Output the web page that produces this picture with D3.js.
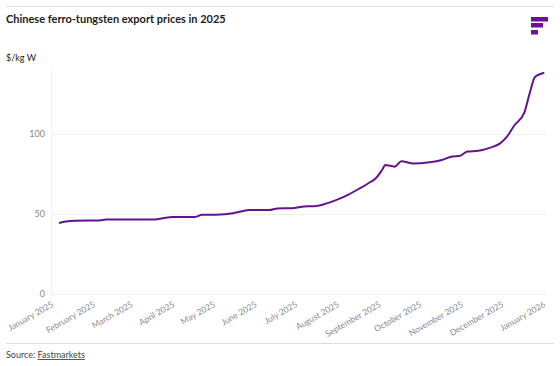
<!DOCTYPE html>
<html>
<head>
<meta charset="utf-8">
<script src="https://cdn.jsdelivr.net/npm/d3@7"></script>
<style>
  body { margin: 0; background: #fff; }
  text { font-family: Lato, "Open Sans", sans-serif; }
</style>
</head>
<body>
<div id="chart"></div>
<script>
// price series, $/kg W
const dates = [
  "2025-01-04","2025-01-09","2025-01-16","2025-02-03","2025-02-08","2025-03-16",
  "2025-03-22","2025-03-29","2025-04-15","2025-04-20","2025-04-30","2025-05-13",
  "2025-05-19","2025-05-25","2025-06-09","2025-06-15","2025-06-26","2025-07-02",
  "2025-07-15","2025-07-20","2025-07-28","2025-08-04","2025-08-15","2025-08-23",
  "2025-08-27","2025-09-01","2025-09-03","2025-09-10","2025-09-15","2025-09-23",
  "2025-10-06","2025-10-15","2025-10-23","2025-10-28","2025-11-03","2025-11-11",
  "2025-11-20","2025-11-27","2025-12-02","2025-12-08","2025-12-15","2025-12-19",
  "2025-12-23","2025-12-27","2025-12-30"
];
const prices = [
  44.4, 45.3, 45.8, 46.0, 46.6, 46.6,
  47.3, 48.1, 48.2, 49.5, 49.6, 50.5,
  51.6, 52.5, 52.5, 53.5, 53.6, 54.4,
  55.2, 56.2, 58.5, 61.0, 66.0, 70.0,
  72.3, 78.0, 80.6, 79.6, 83.0, 81.6,
  82.4, 83.8, 86.0, 86.2, 89.0, 89.5,
  91.5, 94.0, 98.0, 105.6, 113.0, 125.0,
  135.5, 137.5, 138.3
];
const yTicks = [0, 50, 100];
const monthTicks = d3.timeMonth.range(new Date(2025, 0, 1), new Date(2026, 0, 2));

const W = 560, H = 366;
const plot = {left: 51, right: 547, top: 70, bottom: 294};

const svg = d3.select("#chart").append("svg")
  .attr("width", W)
  .attr("height", H);

// header
svg.append("line")
  .attr("x1", 6).attr("x2", 554).attr("y1", 6.5).attr("y2", 6.5)
  .attr("stroke", "#dedede");

svg.append("text")
  .attr("x", 6).attr("y", 23)
  .attr("font-size", 11).attr("font-weight", 700).attr("fill", "#222")
  .text("Chinese ferro-tungsten export prices in 2025");

// logo bars
const logo = [[17, 17], [23, 12], [30, 7]];
svg.append("g").selectAll("rect").data(logo).join("rect")
  .attr("x", 531).attr("y", d => d[0])
  .attr("width", d => d[1]).attr("height", 4.5)
  .attr("fill", "#6c0f99");

svg.append("text")
  .attr("x", 6).attr("y", 61)
  .attr("font-size", 9).attr("fill", "#222")
  .text("$/kg W");

const x = d3.scaleTime()
  .domain([new Date(2025, 0, 1), new Date(2026, 0, 1)])
  .range([55, plot.right]);

const y = d3.scaleLinear()
  .domain([0, 140])
  .range([plot.bottom, plot.bottom - 140 * 1.6]);

// grid + y labels
const yAxis = svg.append("g")
  .attr("transform", `translate(${plot.left},0)`)
  .call(d3.axisLeft(y).tickValues(yTicks).tickSize(-(plot.right - plot.left)).tickPadding(6));
yAxis.select(".domain").remove();
yAxis.selectAll(".tick line").attr("stroke", "#eeeeee");
yAxis.selectAll(".tick text")
  .attr("font-family", "Lato, sans-serif")
  .attr("font-size", 9).attr("fill", "#888");

svg.append("line")
  .attr("x1", plot.left + 0.5).attr("x2", plot.left + 0.5)
  .attr("y1", plot.top).attr("y2", plot.bottom)
  .attr("stroke", "#f0f0f0");

// x labels
svg.append("g").selectAll("text").data(monthTicks).join("text")
  .attr("transform", d => `translate(${x(d) - 1},${plot.bottom + 12}) rotate(-30)`)
  .attr("text-anchor", "end")
  .attr("font-size", 8.5).attr("fill", "#8a8a8a")
  .text(d3.timeFormat("%B %Y"));

// line
const data = dates.map((d, i) => ({date: new Date(d + "T00:00:00"), value: prices[i]}));
const line = d3.line()
  .x(d => x(d.date))
  .y(d => y(d.value))
  .curve(d3.curveMonotoneX);

svg.append("path")
  .datum(data)
  .attr("fill", "none")
  .attr("stroke", "#63138f")
  .attr("stroke-width", 2)
  .attr("d", line);

// footer
svg.append("line")
  .attr("x1", 6).attr("x2", 554).attr("y1", 343.5).attr("y2", 343.5)
  .attr("stroke", "#dedede");

const src = svg.append("text")
  .attr("x", 6).attr("y", 358)
  .attr("font-size", 9).attr("fill", "#444");
src.append("tspan").text("Source: ");
src.append("tspan").attr("text-decoration", "underline").text("Fastmarkets");
</script>
</body>
</html>
